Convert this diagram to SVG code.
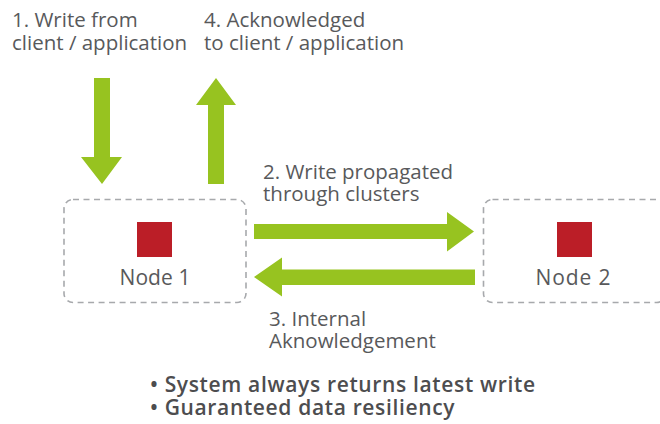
<svg xmlns="http://www.w3.org/2000/svg" width="660" height="424" viewBox="0 0 660 424">
  <style>
    .lbl { font-family: "Open Sans", "Liberation Sans", sans-serif; font-size: 20.5px; fill: #58595b; }
    .nm { font-family: "Open Sans", "Liberation Sans", sans-serif; font-size: 21px; fill: #58595b; }
    .bul { font-family: "Open Sans", "Liberation Sans", sans-serif; font-size: 21px; font-weight: 600; letter-spacing: 0.65px; fill: #4d4d4f; }
    .box { fill: none; stroke: #a7a9ac; stroke-width: 1.6; stroke-dasharray: 6 4.5; }
    .core { fill: #bb1e27; }
    .flow { fill: #97c320; }
  </style>
  <rect width="660" height="424" fill="#ffffff"/>

  <!-- step labels -->
  <g id="labels">
    <text class="lbl" x="12" y="27">1. Write from</text>
    <text class="lbl" x="12" y="50">client / application</text>
    <text class="lbl" x="204" y="27">4. Acknowledged</text>
    <text class="lbl" x="204" y="50">to client / application</text>
    <text class="lbl" x="263" y="179">2. Write propagated</text>
    <text class="lbl" x="263" y="201">through clusters</text>
    <text class="lbl" x="269" y="326">3. Internal</text>
    <text class="lbl" x="269" y="348">Aknowledgement</text>
  </g>

  <!-- cluster nodes -->
  <g id="node1">
    <rect class="box" x="64" y="199.5" width="182" height="103" rx="9"/>
    <rect class="core" x="137" y="222" width="35" height="35"/>
    <text class="nm" x="155" y="285" text-anchor="middle" textLength="71" lengthAdjust="spacing">Node 1</text>
  </g>
  <g id="node2">
    <rect class="box" x="483.5" y="199.5" width="182" height="103" rx="9"/>
    <rect class="core" x="557" y="222" width="35" height="35"/>
    <text class="nm" x="573" y="285" text-anchor="middle" textLength="75" lengthAdjust="spacing">Node 2</text>
  </g>

  <!-- block arrows -->
  <g id="connectors">
    <polygon class="flow" points="94,78 110,78 110,157 122,157 102,184 81,157 94,157"/>
    <polygon class="flow" points="208,184 224,184 224,105 236,105 216,78 196,105 208,105"/>
    <polygon class="flow" points="254,224 447,224 447,212 474,231.5 447,251.5 447,239 254,239"/>
    <polygon class="flow" points="475,269.5 282,269.5 282,257.5 254,277 282,296.5 282,285 475,285"/>
  </g>

  <!-- summary bullets -->
  <g id="summary">
    <text class="bul" x="150" y="392">• System always returns latest write</text>
    <text class="bul" x="150" y="415">• Guaranteed data resiliency</text>
  </g>
</svg>
